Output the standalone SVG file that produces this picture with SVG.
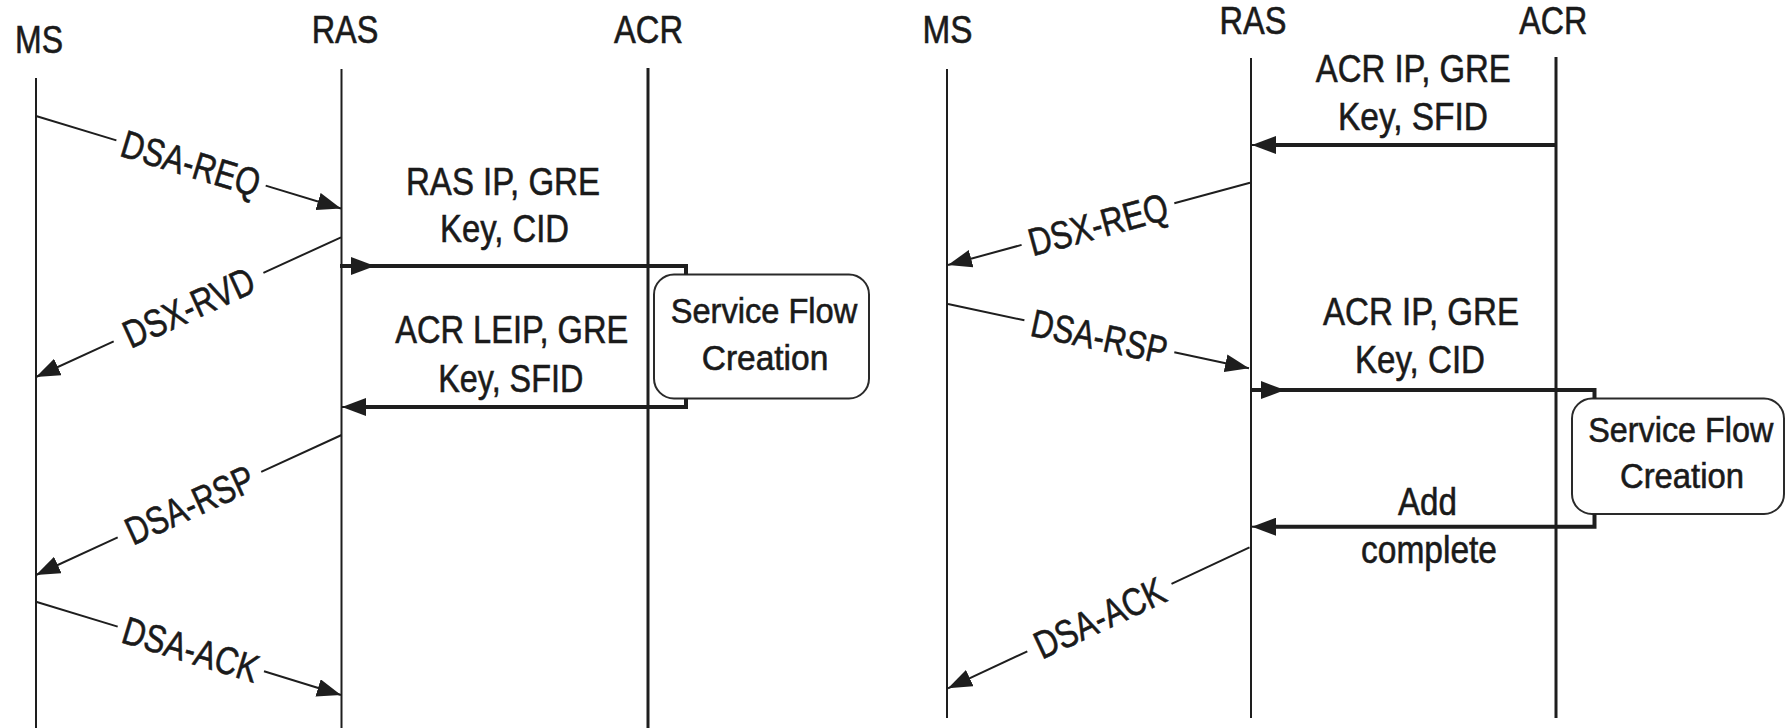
<svg xmlns="http://www.w3.org/2000/svg" width="1787" height="728" viewBox="0 0 1787 728">
<style>
text{font-family:"Liberation Sans",Arial,sans-serif;fill:#1a1a1a;stroke:#1a1a1a;stroke-width:0.6;text-anchor:middle}
.lbl{font-size:39px}
.msg{font-size:39px}
.box{font-size:35px}
.life{stroke:#1e1e1e;stroke-width:2;fill:none}
.lifeb{stroke:#1e1e1e;stroke-width:3;fill:none}
.thin{stroke:#1e1e1e;stroke-width:2;fill:none}
.thick{stroke:#1e1e1e;stroke-width:4;fill:none}
.proc{fill:#fff;stroke:#2a2a2a;stroke-width:2}
</style>
<defs>
<marker id="ah" markerUnits="userSpaceOnUse" viewBox="0 0 24 18" refX="24" refY="9" markerWidth="24" markerHeight="18" orient="auto">
<path d="M0,0 L24,9 L0,18 z" fill="#1e1e1e"/>
</marker>
</defs>
<rect width="1787" height="728" fill="#fff"/>

<g id="left-ms"><text class="lbl" x="39" y="52.7" textLength="48" lengthAdjust="spacingAndGlyphs">MS</text><line class="life" x1="36" y1="78" x2="36" y2="728"/></g>
<g id="left-ras"><text class="lbl" x="345" y="43.3" textLength="66.7" lengthAdjust="spacingAndGlyphs">RAS</text><line class="life" x1="341.5" y1="69" x2="341.5" y2="728"/></g>
<g id="left-acr"><text class="lbl" x="648.5" y="43" textLength="69" lengthAdjust="spacingAndGlyphs">ACR</text><line class="lifeb" x1="648" y1="68" x2="648" y2="728"/></g>

<g id="right-ms"><text class="lbl" x="947.5" y="42.7" textLength="50" lengthAdjust="spacingAndGlyphs">MS</text><line class="life" x1="947" y1="69" x2="947" y2="718"/></g>
<g id="right-ras"><text class="lbl" x="1253" y="34.3" textLength="67" lengthAdjust="spacingAndGlyphs">RAS</text><line class="life" x1="1251" y1="58" x2="1251" y2="718"/></g>
<g id="right-acr"><text class="lbl" x="1553.3" y="34.3" textLength="68" lengthAdjust="spacingAndGlyphs">ACR</text><line class="lifeb" x1="1556" y1="57" x2="1556" y2="718"/></g>

<g id="left-sfc"><rect class="proc" x="654" y="274.5" width="215" height="124" rx="20"/>
<text class="box" x="764" y="323.3" textLength="186.6" lengthAdjust="spacingAndGlyphs">Service Flow</text>
<text class="box" x="765" y="370" textLength="126.6" lengthAdjust="spacingAndGlyphs">Creation</text></g>

<g id="right-sfc"><rect class="proc" x="1572" y="398.5" width="212" height="115.5" rx="20"/>
<text class="box" x="1680.8" y="441.7" textLength="185" lengthAdjust="spacingAndGlyphs">Service Flow</text>
<text class="box" x="1682" y="488.3" textLength="124" lengthAdjust="spacingAndGlyphs">Creation</text></g>

<g id="connectors">
<path class="thin" d="M36,116 L116.4,140.4"/>
<path class="thin" d="M265.7,185.6 L341,208.5" marker-end="url(#ah)"/>
<text class="msg" transform="translate(191,163) rotate(16.9)" x="0" y="14" textLength="143" lengthAdjust="spacingAndGlyphs">DSA-REQ</text>
<path class="thin" d="M341,237.3 L263.4,272.9"/>
<path class="thin" d="M113.7,341.4 L36,377" marker-end="url(#ah)"/>
<text class="msg" transform="translate(188.5,307.1) rotate(-24.6)" x="0" y="14" textLength="140" lengthAdjust="spacingAndGlyphs">DSX-RVD</text>
<path class="thick" d="M340,266 H686 V274.5"/>
<path class="thin" d="M352,266 H375" marker-end="url(#ah)"/>
<text class="msg" x="503" y="195" textLength="194" lengthAdjust="spacingAndGlyphs">RAS IP, GRE</text>
<text class="msg" x="504.5" y="242" textLength="129" lengthAdjust="spacingAndGlyphs">Key, CID</text>
<path class="thick" d="M686,398.5 V407 H350"/>
<path class="thin" d="M360,407 H342" marker-end="url(#ah)"/>
<text class="msg" x="511.7" y="343.3" textLength="233" lengthAdjust="spacingAndGlyphs">ACR LEIP, GRE</text>
<text class="msg" x="510.8" y="391.7" textLength="145" lengthAdjust="spacingAndGlyphs">Key, SFID</text>
<path class="thin" d="M341.6,435 L261.2,471.8"/>
<path class="thin" d="M117.7,537.4 L36,575" marker-end="url(#ah)"/>
<text class="msg" transform="translate(189.5,504.6) rotate(-24.6)" x="0" y="14" textLength="137" lengthAdjust="spacingAndGlyphs">DSA-RSP</text>
<path class="thin" d="M36,601.7 L117.7,626.6"/>
<path class="thin" d="M264,671.2 L341,695" marker-end="url(#ah)"/>
<text class="msg" transform="translate(190.9,649) rotate(16.96)" x="0" y="14" textLength="140" lengthAdjust="spacingAndGlyphs">DSA-ACK</text>

<path class="thick" d="M1556,145 H1262"/>
<path class="thin" d="M1270,145 H1252" marker-end="url(#ah)"/>
<text class="msg" x="1413.3" y="81.7" textLength="195" lengthAdjust="spacingAndGlyphs">ACR IP, GRE</text>
<text class="msg" x="1413" y="130" textLength="150" lengthAdjust="spacingAndGlyphs">Key, SFID</text>
<path class="thin" d="M1250,182.7 L1174.3,203.3"/>
<path class="thin" d="M1021.6,244.9 L948,265" marker-end="url(#ah)"/>
<text class="msg" transform="translate(1098,224.1) rotate(-15.2)" x="0" y="14" textLength="143" lengthAdjust="spacingAndGlyphs">DSX-REQ</text>
<path class="thin" d="M948,304 L1024.4,320.3"/>
<path class="thin" d="M1174.3,352.3 L1249,368.3" marker-end="url(#ah)"/>
<text class="msg" transform="translate(1099.4,336.3) rotate(12.06)" x="0" y="14" textLength="138" lengthAdjust="spacingAndGlyphs">DSA-RSP</text>
<path class="thick" d="M1250,390 H1594.5 V398.5"/>
<path class="thin" d="M1262,390 H1285" marker-end="url(#ah)"/>
<text class="msg" x="1421" y="325" textLength="196" lengthAdjust="spacingAndGlyphs">ACR IP, GRE</text>
<text class="msg" x="1420" y="373" textLength="130" lengthAdjust="spacingAndGlyphs">Key, CID</text>
<path class="thick" d="M1594.5,514 V526.7 H1262"/>
<path class="thin" d="M1270,526.7 H1252" marker-end="url(#ah)"/>
<text class="msg" x="1427.4" y="515" textLength="59" lengthAdjust="spacingAndGlyphs">Add</text>
<text class="msg" x="1429" y="563" textLength="136" lengthAdjust="spacingAndGlyphs">complete</text>
<path class="thin" d="M1249.5,547.3 L1171.5,583.8"/>
<path class="thin" d="M1027.3,651.3 L948,688.3" marker-end="url(#ah)"/>
<text class="msg" transform="translate(1099.4,617.5) rotate(-25.06)" x="0" y="14" textLength="140" lengthAdjust="spacingAndGlyphs">DSA-ACK</text>
</g>
</svg>
